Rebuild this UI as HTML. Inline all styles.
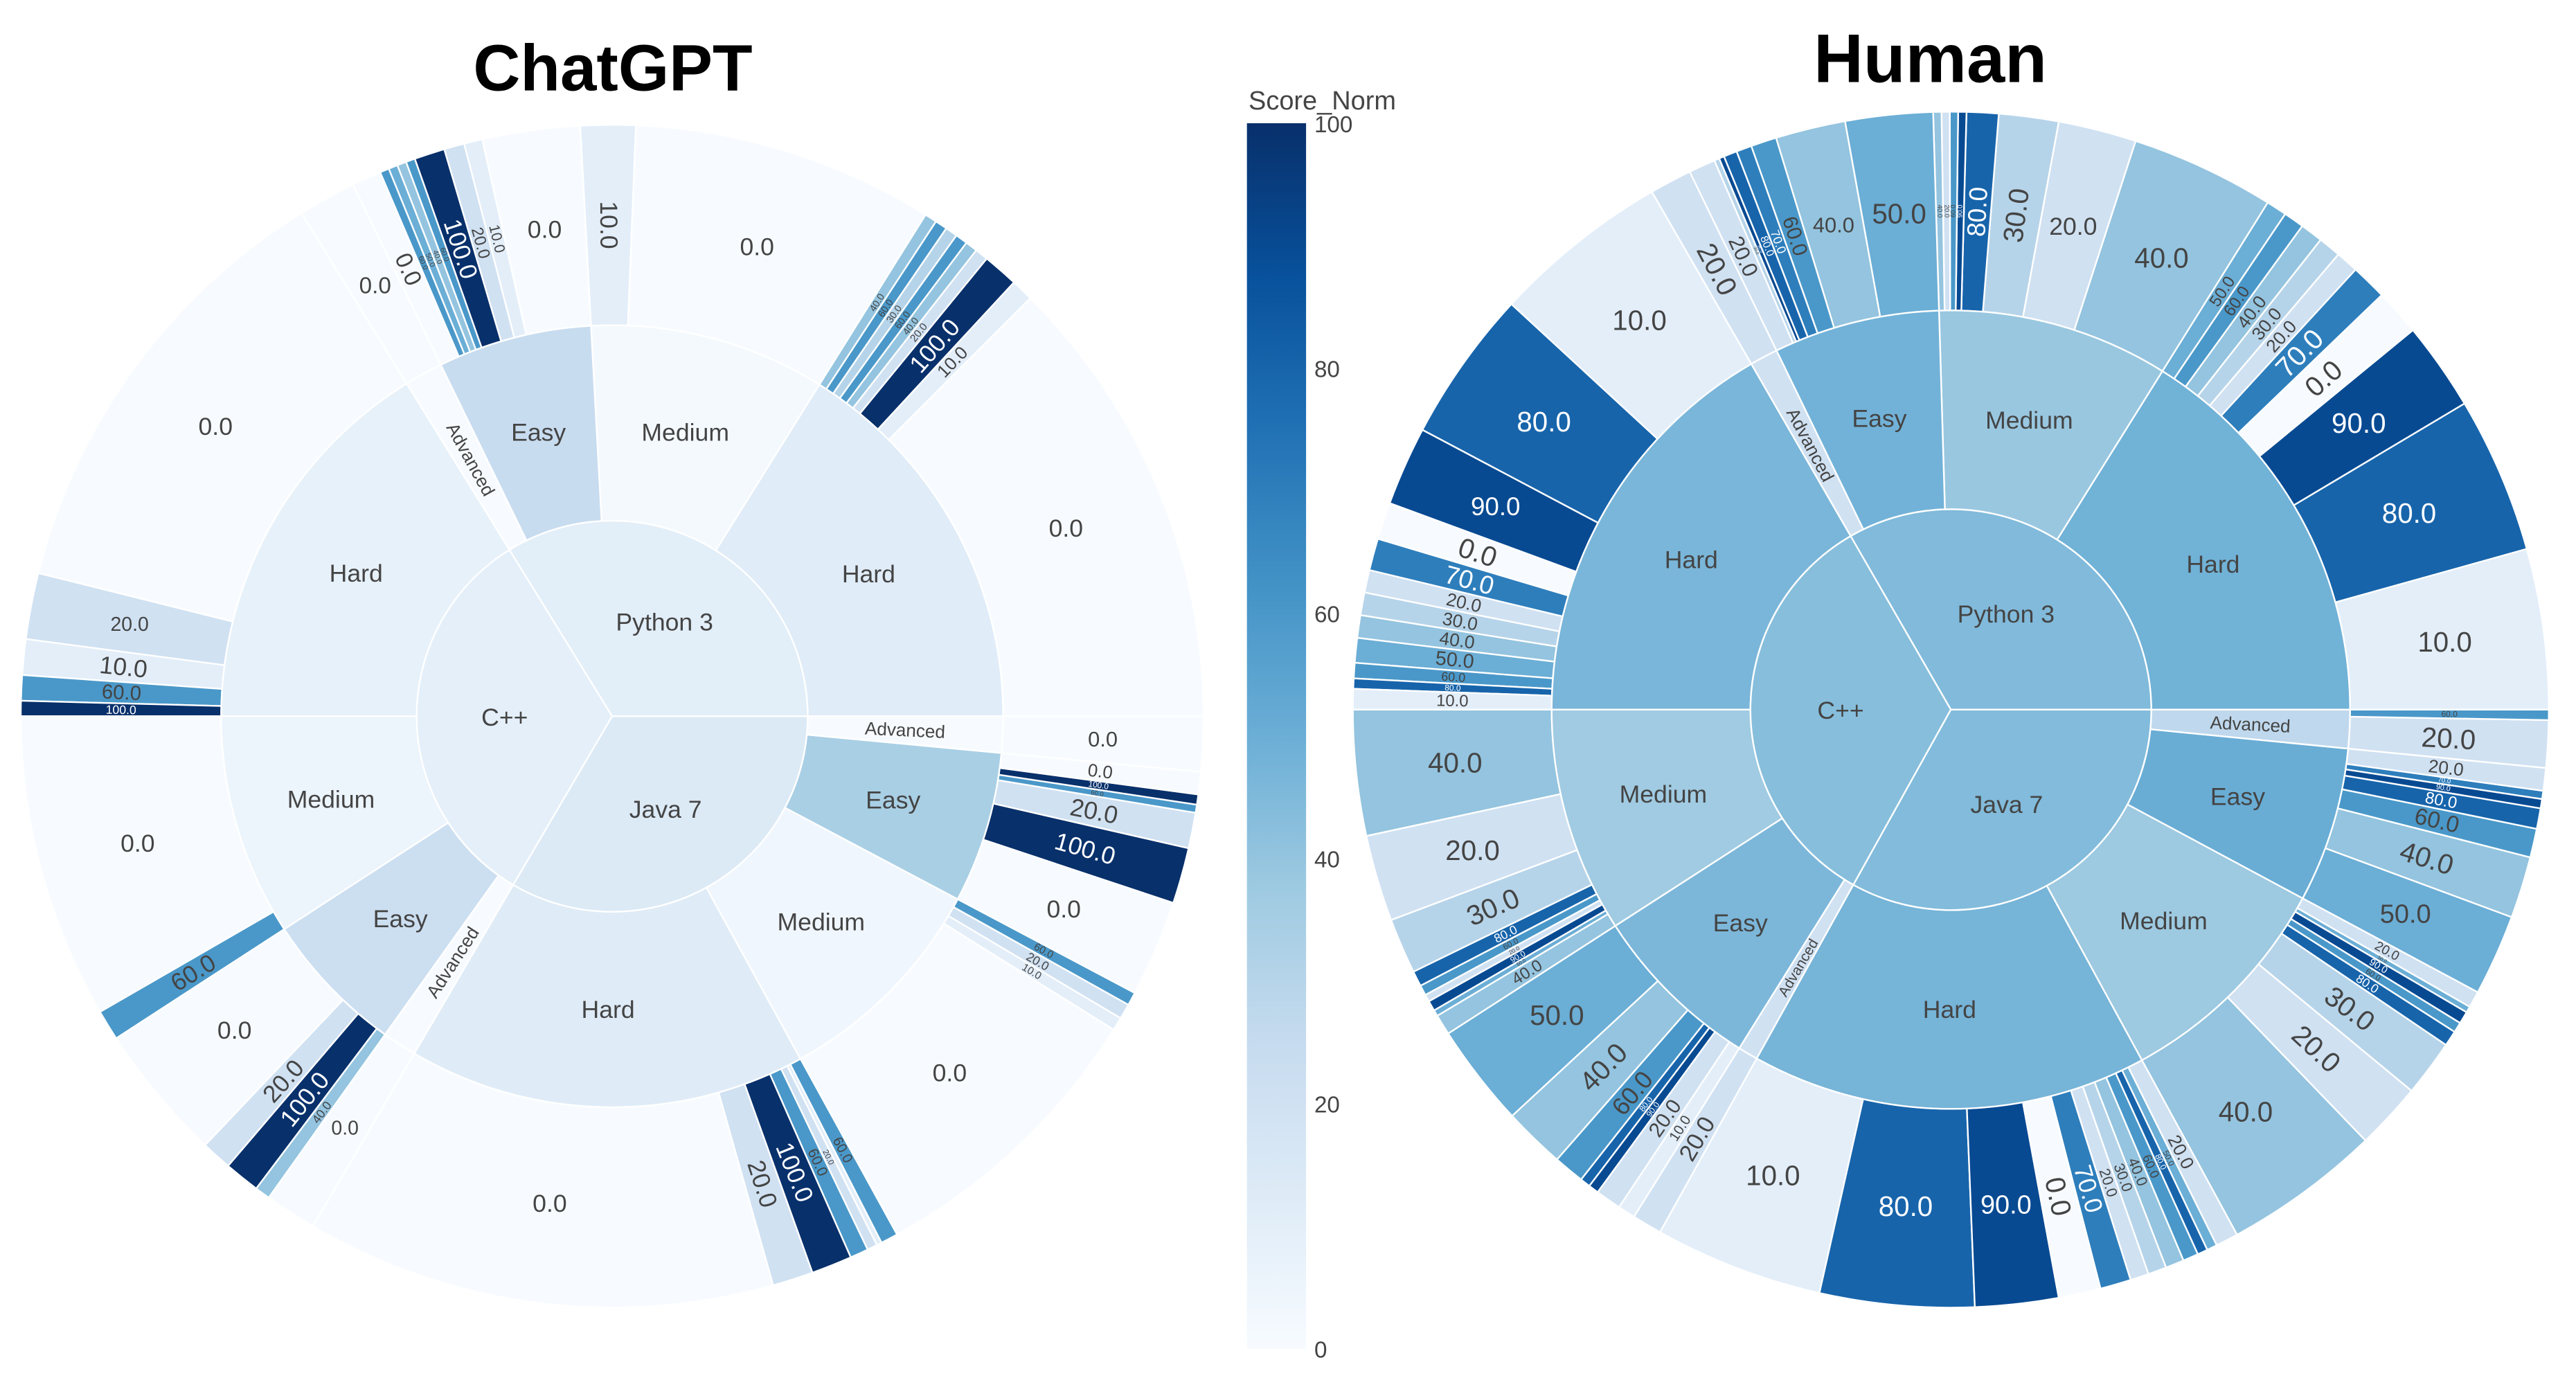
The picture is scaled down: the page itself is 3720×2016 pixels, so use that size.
<!DOCTYPE html>
<html><head><meta charset="utf-8"><style>
html,body{margin:0;padding:0;background:#fff;}
svg{display:block;}
text{font-family:"Liberation Sans",sans-serif;}
</style></head>
<body>
<svg id="root" xmlns="http://www.w3.org/2000/svg" width="3720" height="2016" viewBox="0 0 1568 849.8">
  <defs>
    <linearGradient id="blues" x1="0" y1="1" x2="0" y2="0">
      <stop offset="0" stop-color="rgb(247,251,255)"/>
      <stop offset="0.125" stop-color="rgb(222,235,247)"/>
      <stop offset="0.25" stop-color="rgb(198,219,239)"/>
      <stop offset="0.375" stop-color="rgb(158,202,225)"/>
      <stop offset="0.5" stop-color="rgb(107,174,214)"/>
      <stop offset="0.625" stop-color="rgb(66,146,198)"/>
      <stop offset="0.75" stop-color="rgb(33,113,181)"/>
      <stop offset="0.875" stop-color="rgb(8,81,156)"/>
      <stop offset="1" stop-color="rgb(8,48,107)"/>
    </linearGradient>
  </defs>
  <text x="373" y="55" text-anchor="middle" font-size="40" font-weight="bold" fill="#000" textLength="170" lengthAdjust="spacingAndGlyphs">ChatGPT</text>
  <text x="1175" y="50" text-anchor="middle" font-size="42" font-weight="bold" fill="#000" textLength="142" lengthAdjust="spacingAndGlyphs">Human</text>
  <g id="gpt"></g>
  <g id="human"></g>
  <g id="cbar">
    <text x="760" y="66.5" font-size="16" fill="#444">Score_Norm</text>
    <rect x="759" y="75" width="36" height="746" fill="url(#blues)"/>
  </g>
</svg>
<script>
// ===== ChatGPT data =====
const gptLangs = ["Python 3","Python 3","Python 3","Python 3","C++","C++","C++","C++","Java 7","Java 7","Java 7","Java 7"];
const gptDiffs = ["Hard","Medium","Easy","Advanced","Hard","Medium","Easy","Advanced","Hard","Medium","Easy","Advanced"];
const gptScores = [
  [0,10,100,20,40,60,30,60,40],
  [0,10],
  [0,10,20,100,60,40,50,60,0],
  [0],
  [0,20,10,60,100],
  [0,60],
  [0,20,100,40],
  [0],
  [0,20,100,60,20,10,60],
  [0,10,20,60],
  [0,100,20,60,100,0],
  [0]
];
const gptSizes = [
  [45,2.2,3.5,1.3,1.2,1.2,1.2,1.2,1.2],
  [29.7,5.4],
  [9.6,1.8,2.0,3.0,0.9,0.9,0.9,0.9,2.9],
  [5.7],
  [44.3,6.5,3.5,2.5,1.5],
  [30,3],
  [13.5,3,3.5,1.5],
  [5.1],
  [46.2,4,4,1.8,1,0.5,1.7],
  [29.2,1.3,1.5,1.3],
  [9.5,5.5,3.5,0.8,1,2.2],
  [5.4]
];
// ===== Human data =====
const humLangs = ["Python 3","Python 3","Python 3","Python 3","C++","C++","C++","C++","Java 7","Java 7","Java 7","Java 7"];
const humDiffs = ["Hard","Medium","Easy","Advanced","Hard","Medium","Easy","Advanced","Hard","Medium","Easy","Advanced"];
const humScores = [
  [10,80,90,0,70,20,30,40,60,50],
  [40,20,30,80,90,60,20,40],
  [50,40,60,70,80,90,30,20],
  [20],
  [10,80,90,0,70,20,30,40,50,60,80,10],
  [40,20,30,80,60,20,90,50,40],
  [50,40,60,80,90,20,10],
  [20],
  [10,80,90,0,70,20,30,40,60,80,50,20],
  [40,20,30,80,60,90,50,20],
  [50,40,60,80,90,70,20],
  [20,60]
];
const humSizes = [
  [15.6,15.2,8.6,4.5,3.5,2.2,2.2,2.2,2,2],
  [14,7.6,5.8,3.1,0.8,0.8,0.8,0.8],
  [8.5,6.8,2.5,1.5,1.3,0.5,0.5,2.6],
  [4.1],
  [17.3,14.8,7.7,3.6,3.1,2.2,2.2,2.2,2.4,1.5,1,2],
  [12.2,8.4,5.4,1.5,1,0.7,1,0.6,2],
  [10,6,3,1,1,2.5,1.7],
  [2.9],
  [16.4,15,8.1,4.1,3,1.8,1.8,1.8,1.5,1,1,2.2],
  [15.3,6.5,5.5,1.5,1,1.2,0.6,1.6],
  [7.9,6,2.8,2,0.9,0.8,2.2],
  [4.6,1]
];
// colorbar ticks
const cbTicks = [0,20,40,60,80,100];

const NS = "http://www.w3.org/2000/svg";
const blues = [[0,[247,251,255]],[0.125,[222,235,247]],[0.25,[198,219,239]],[0.375,[158,202,225]],[0.5,[107,174,214]],[0.625,[66,146,198]],[0.75,[33,113,181]],[0.875,[8,81,156]],[1,[8,48,107]]];
function colorOf(v){
  let t = Math.max(0,Math.min(1,v/100));
  for(let i=1;i<blues.length;i++){
    if(t<=blues[i][0]){
      const a=blues[i-1],b=blues[i];
      const f=(t-a[0])/(b[0]-a[0]);
      const c=a[1].map((x,k)=>Math.round(x+(b[1][k]-x)*f));
      return "rgb("+c.join(",")+")";
    }
  }
  return "rgb(8,48,107)";
}
function pt(cx,cy,r,a){const t=a*Math.PI/180;return [cx+r*Math.cos(t), cy-r*Math.sin(t)];}
function sectorPath(cx,cy,r0,r1,a0,a1){
  const large=(a1-a0)>180?1:0;
  const p1=pt(cx,cy,r1,a0), p2=pt(cx,cy,r1,a1);
  if(r0<=0){
    return `M${cx},${cy} L${p1[0]},${p1[1]} A${r1},${r1} 0 ${large} 0 ${p2[0]},${p2[1]} Z`;
  }
  const p3=pt(cx,cy,r0,a1), p4=pt(cx,cy,r0,a0);
  return `M${p1[0]},${p1[1]} A${r1},${r1} 0 ${large} 0 ${p2[0]},${p2[1]} L${p3[0]},${p3[1]} A${r0},${r0} 0 ${large} 1 ${p4[0]},${p4[1]} Z`;
}
function addSector(g,cx,cy,r0,r1,a0,a1,val,label,name,maxFs){
  const p=document.createElementNS(NS,"path");
  p.setAttribute("d",sectorPath(cx,cy,r0,r1,a0,a1));
  p.setAttribute("fill",colorOf(val));
  p.setAttribute("stroke","#fff");
  p.setAttribute("stroke-width","1");
  
  
  g.appendChild(p);
  const span=(a1-a0)*Math.PI/180;
  const rm = r0<=0 ? r1*0.55 : (r0+r1)/2;
  const arc=span*rm, depth=r1-Math.max(r0,0);
  const len=label.length;
  const wEst=(f)=>0.56*f*len;
  let fs=maxFs, rot=0, horiz=false;
  for(let f=maxFs; f>=maxFs*0.75; f-=0.5){
    if(wEst(f)+6<=arc && f*1.3<=arc){fs=f;horiz=true;break;}
  }
  if(!horiz){
    fs=Math.min(maxFs, arc*0.95, (depth-8)/(0.56*len));
    if(fs<2.5) return;
    const mid=(a0+a1)/2;
    rot=-mid;
    const m=((mid%360)+360)%360;
    if(m>90 && m<270) rot+=180;
  }
  const mid=(a0+a1)/2;
  const c=pt(cx,cy,rm,mid);
  const t=document.createElementNS(NS,"text");
  t.setAttribute("x",c[0]); t.setAttribute("y",c[1]);
  t.setAttribute("text-anchor","middle");
  t.setAttribute("dominant-baseline","central");
  t.setAttribute("font-size",fs.toFixed(2));
  t.setAttribute("fill", val>=65?"#fff":"#444");
  if(rot!==0) t.setAttribute("transform",`rotate(${rot} ${c[0]} ${c[1]})`);
  t.textContent=label;
  
  
  g.appendChild(t);
}
function drawSunburst(gid,cx,cy,R,langs,diffs,scores,sizes,fsOuter){
  const g=document.getElementById(gid);
  let total=0; sizes.forEach(s=>s.forEach(v=>total+=v));
  const k=360/total;
  let a=0;
  const langAgg={}; const order=[];
  for(let i=0;i<langs.length;i++){
    const ds=sizes[i], vs=scores[i];
    const gs=ds.reduce((x,y)=>x+y,0);
    const avg=ds.reduce((acc,s,j)=>acc+s*vs[j],0)/gs;
    const a0=a;
    for(let j=0;j<ds.length;j++){
      const la=a, lb=a+ds[j]*k;
      addSector(g,cx,cy,R[2],R[3],la,lb,vs[j],vs[j].toFixed(1),`leaf-${langs[i].replace(/[^a-z0-9]/gi,'').toLowerCase()}-${diffs[i].toLowerCase()}-${j}`,fsOuter);
      a=lb;
    }
    addSector(g,cx,cy,R[1],R[2],a0,a,avg,diffs[i],`ring-${langs[i].replace(/[^a-z0-9]/gi,'').toLowerCase()}-${diffs[i].toLowerCase()}`, diffs[i]==="Advanced"?11:15);
    if(!langAgg[langs[i]]){langAgg[langs[i]]={a0:a0,a1:a,s:0,w:0};order.push(langs[i]);}
    langAgg[langs[i]].a1=a; langAgg[langs[i]].s+=avg*gs; langAgg[langs[i]].w+=gs;
  }
  order.forEach(l=>{
    const o=langAgg[l];
    addSector(g,cx,cy,0,R[1],o.a0,o.a1,o.s/o.w,l,`core-${l.replace(/[^a-z0-9]/gi,'').toLowerCase()}`,15);
  });
  Array.from(g.querySelectorAll("text")).forEach(t=>g.appendChild(t));
}
drawSunburst("gpt",372.6,436,[0,119,238,360],gptLangs,gptDiffs,gptScores,gptSizes,15);
drawSunburst("human",1187.5,432,[0,122,243,364],humLangs,humDiffs,humScores,humSizes,17);

const cb=document.getElementById("cbar");
const cbTop=75, cbBot=821;
cbTicks.forEach(v=>{
  const y=cbBot-(v/100)*(cbBot-cbTop);
  const t=document.createElementNS(NS,"text");
  t.setAttribute("x",800); t.setAttribute("y",y+1);
  t.setAttribute("dominant-baseline","central");
  t.setAttribute("font-size","14");
  t.setAttribute("fill","#444");
  t.textContent=String(v);
  
  
  cb.appendChild(t);
});
</script>
</body></html>
